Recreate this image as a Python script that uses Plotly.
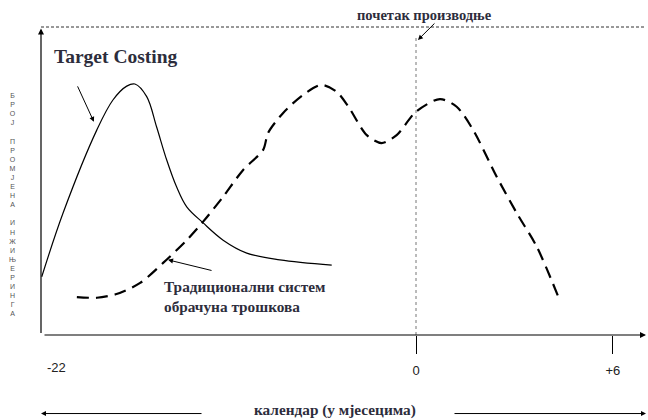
import plotly.graph_objects as go

# Target Costing curve (months relative to production start, relative level)
tc_x = [-11.41, -10.76, -9.73, -9.24, -8.82, -8.57, -8.21, -7.91, -7.60, -7.30,
        -6.99, -6.49, -5.88, -5.16, -4.15, -2.57]
tc_y = [1.89, 3.96, 6.66, 7.63, 8.08, 8.15, 7.74, 6.76, 5.68, 4.81,
        4.16, 3.64, 3.08, 2.66, 2.44, 2.27]

# Traditional costing system curve
tr_x = [-10.34, -9.73, -9.13, -8.41, -7.71, -6.99, -6.49, -5.88, -5.27, -4.66,
        -4.51, -4.05, -3.45, -2.88, -2.42, -2.06, -1.50, -1.05, -0.59, 0.0,
        0.73, 1.24, 1.74, 2.46, 3.07, 3.68, 4.34]
tr_y = [1.23, 1.21, 1.33, 1.69, 2.34, 3.08, 3.68, 4.49, 5.36, 6.01,
        6.56, 7.21, 7.79, 8.12, 7.90, 7.41, 6.49, 6.23, 6.49, 7.25,
        7.66, 7.41, 6.66, 5.14, 3.96, 2.87, 1.24]

tick_vals = [0, 6]
tick_text = ["0", "+6"]
left_label = "-22"
left_label_pos = -10.95

y_label = "БРОЈ ПРОМЈЕНА ИНЖИЊЕРИНГА"
x_title = "календар (у мјесецима)"
start_label = "почетак производње"
tc_label = "Target Costing"
tr_label = ["Традиционални систем", "обрачуна трошкова"]

TXT = "#2d2d3c"
SERIF = "Liberation Serif, Times New Roman, serif"
SANS = "Liberation Sans, Arial, sans-serif"

fig = go.Figure()
fig.add_trace(go.Scatter(x=tc_x, y=tc_y, mode="lines",
                         line=dict(color="black", width=1.2, shape="spline", smoothing=1.0),
                         hoverinfo="skip", showlegend=False))
fig.add_trace(go.Scatter(x=tr_x, y=tr_y, mode="lines",
                         line=dict(color="black", width=2.2, dash="12px,7px", shape="spline", smoothing=0.8),
                         hoverinfo="skip", showlegend=False))

# top dashed boundary
fig.add_shape(type="line", xref="paper", yref="paper", x0=0, x1=1, y0=1, y1=1,
              line=dict(color="#333333", width=1, dash="3px,2px"))
# production start dotted line
fig.add_shape(type="line", xref="x", yref="y", x0=0, x1=0, y0=0, y1=9.74,
              line=dict(color="#777777", width=1, dash="dot"))

ann = []
# axes with arrowheads
ann.append(dict(xref="paper", yref="paper", x=0, y=0.995, ax=0, ay=306, text="",
                showarrow=True, arrowhead=2, arrowsize=1, arrowwidth=1.2, arrowcolor="black"))
ann.append(dict(xref="paper", yref="paper", x=1, y=0, ax=-603, ay=0, text="",
                showarrow=True, arrowhead=2, arrowsize=1, arrowwidth=1.2, arrowcolor="black"))
# labels
ann.append(dict(xref="x", yref="y", x=-11.10, y=9.03, text="<b>" + tc_label + "</b>",
                showarrow=False, xanchor="left", yanchor="middle",
                font=dict(family=SERIF, size=19.5, color=TXT)))
ann.append(dict(xref="x", yref="y", x=-9.82, y=6.92, ax=-17, ay=-37, text="",
                showarrow=True, arrowhead=2, arrowsize=1, arrowwidth=1, arrowcolor="black"))
ann.append(dict(xref="x", yref="y", x=-7.74, y=1.56, text="<b>" + tr_label[0] + "</b>",
                showarrow=False, xanchor="left", yanchor="middle",
                font=dict(family=SERIF, size=15.3, color=TXT)))
ann.append(dict(xref="x", yref="y", x=-7.74, y=0.94, text="<b>" + tr_label[1] + "</b>",
                showarrow=False, xanchor="left", yanchor="middle",
                font=dict(family=SERIF, size=15.3, color=TXT)))
ann.append(dict(xref="x", yref="y", x=-7.56, y=2.44, ax=45, ay=11, text="",
                showarrow=True, arrowhead=2, arrowsize=1, arrowwidth=1, arrowcolor="black"))
ann.append(dict(xref="x", yref="paper", x=0.27, y=1.039, text="<b>" + start_label + "</b>",
                showarrow=False, xanchor="center", yanchor="middle",
                font=dict(family=SERIF, size=14.5, color=TXT)))
ann.append(dict(xref="x", yref="y", x=0.06, y=9.58, ax=18, ay=-18, text="",
                showarrow=True, arrowhead=2, arrowsize=1, arrowwidth=1, arrowcolor="black"))
ann.append(dict(xref="x", yref="paper", x=left_label_pos, y=-0.107, text=left_label,
                showarrow=False, xanchor="center", yanchor="middle",
                font=dict(family=SANS, size=13, color="#222222")))
# x title with arrows
ann.append(dict(xref="paper", yref="paper", x=(335 - 41) / 605, y=-0.2435,
                text="<b>" + x_title + "</b>", showarrow=False,
                xanchor="center", yanchor="middle",
                font=dict(family=SERIF, size=15.3, color=TXT)))
ann.append(dict(xref="paper", yref="paper", x=0.0, y=-0.255, ax=162, ay=0, text="",
                showarrow=True, arrowhead=2, arrowsize=1, arrowwidth=1, arrowcolor="black"))
ann.append(dict(xref="paper", yref="paper", x=1.0, y=-0.255, ax=-193, ay=0, text="",
                showarrow=True, arrowhead=2, arrowsize=1, arrowwidth=1, arrowcolor="black"))
# vertical stacked y label
stack = "<br>".join(ch if ch != " " else " " for ch in y_label)
ann.append(dict(xref="paper", yref="paper", x=(12 - 41) / 605, y=0.4237, text=stack,
                showarrow=False, xanchor="center", yanchor="middle",
                font=dict(family=SANS, size=7, color="#555555")))

fig.update_layout(
    width=648, height=420,
    margin=dict(l=41, r=2, t=27, b=85),
    paper_bgcolor="white", plot_bgcolor="white",
    showlegend=False,
    annotations=ann,
    xaxis=dict(range=[-11.433, 7.012], showgrid=False, zeroline=False, showline=False,
               tickvals=tick_vals, ticktext=tick_text, ticks="outside", ticklen=18,
               tickcolor="black", tickwidth=1, ticklabelstandoff=5,
               tickfont=dict(family=SANS, size=13, color="#222222")),
    yaxis=dict(range=[0, 10], showgrid=False, zeroline=False, showline=False,
               showticklabels=False, ticks=""),
)

fig.write_html("out.html", config={"displayModeBar": False},
               post_script="document.body.style.margin='0';document.body.style.overflow='hidden';")
